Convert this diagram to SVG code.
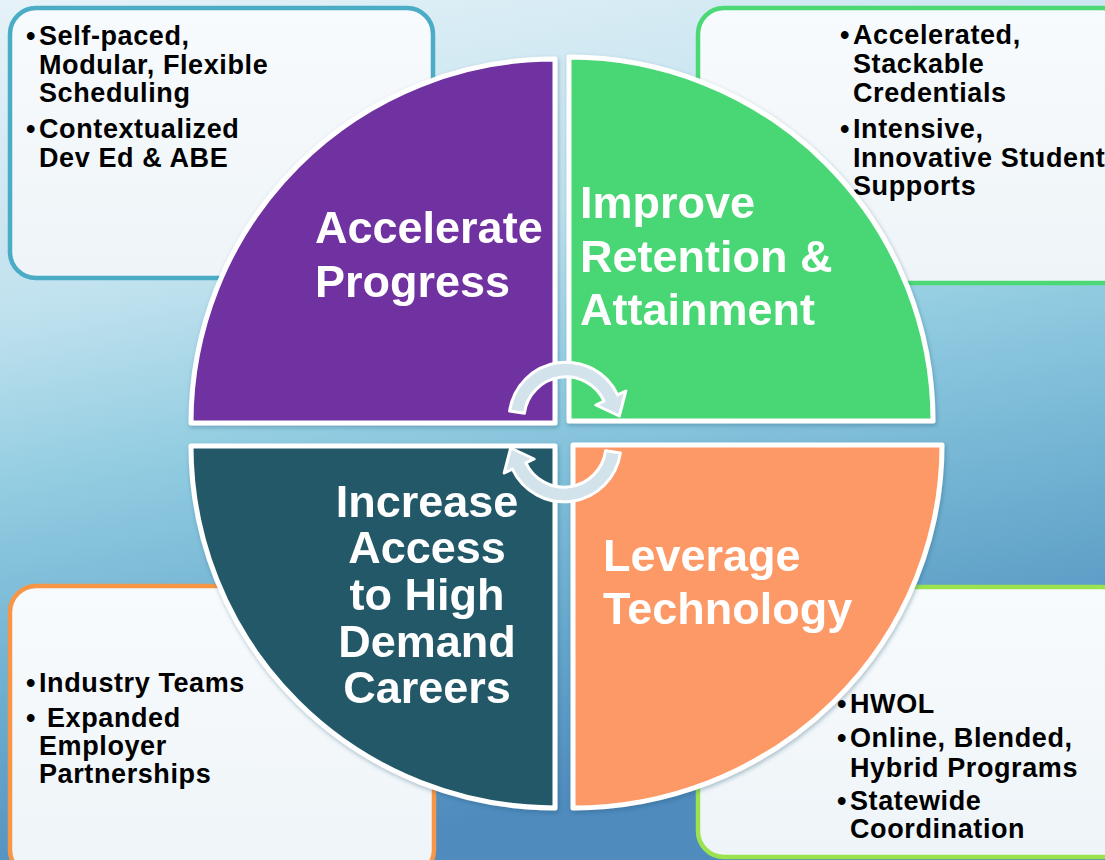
<svg xmlns="http://www.w3.org/2000/svg" width="1105" height="860" viewBox="0 0 1105 860">
  <defs>
    <linearGradient id="bg" x1="0" y1="0" x2="0.25" y2="1">
      <stop offset="0" stop-color="#e6f2f8"/>
      <stop offset="0.35" stop-color="#bfe1ee"/>
      <stop offset="0.55" stop-color="#8fcbe0"/>
      <stop offset="0.8" stop-color="#68a9cd"/>
      <stop offset="1" stop-color="#4f8bbd"/>
    </linearGradient>
    <linearGradient id="boxfill" x1="0" y1="0" x2="0" y2="1">
      <stop offset="0" stop-color="#f8fbfd"/>
      <stop offset="1" stop-color="#eef4f8"/>
    </linearGradient>
    <filter id="sh" x="-10%" y="-10%" width="120%" height="120%">
      <feDropShadow dx="1" dy="2" stdDeviation="2" flood-color="#1d4e6e" flood-opacity="0.35"/>
    </filter>
  </defs>
  <style>
    .box { fill: url(#boxfill); stroke-width: 4.5; }
    .quad { stroke: #ffffff; stroke-width: 5; stroke-linejoin: round; }
    .qt { font-family: "Liberation Sans", Arial, sans-serif; font-weight: bold; font-size: 45px; fill: #ffffff; }
    .bt { font-family: "Liberation Sans", Arial, sans-serif; font-weight: bold; font-size: 27px; letter-spacing: 0.6px; fill: #000000; }
    .arrow { fill: #d3e3ec; stroke: #ffffff; stroke-width: 3; stroke-linejoin: round; }
  </style>

  <rect x="0" y="0" width="1105" height="860" fill="url(#bg)"/>

  <!-- Corner boxes -->
  <g id="box-top-left">
    <rect class="box" x="10" y="8" width="423" height="270" rx="26" stroke="#4bacc6"/>
    <text class="bt"><tspan x="26" y="45">•</tspan><tspan x="39" y="45">Self-paced,</tspan><tspan x="39" y="74">Modular, Flexible</tspan><tspan x="39" y="102">Scheduling</tspan><tspan x="26" y="138">•</tspan><tspan x="39" y="138">Contextualized</tspan><tspan x="39" y="167">Dev Ed &amp; ABE</tspan></text>
  </g>
  <g id="box-top-right">
    <rect class="box" x="698" y="8" width="430" height="275" rx="26" stroke="#4cd874"/>
    <text class="bt"><tspan x="840" y="44">•</tspan><tspan x="853" y="44">Accelerated,</tspan><tspan x="853" y="73">Stackable</tspan><tspan x="853" y="102">Credentials</tspan><tspan x="840" y="138">•</tspan><tspan x="853" y="138">Intensive,</tspan><tspan x="853" y="167">Innovative Student</tspan><tspan x="853" y="195">Supports</tspan></text>
  </g>
  <g id="box-bottom-left">
    <rect class="box" x="10" y="586" width="424" height="290" rx="26" stroke="#f79646"/>
    <text class="bt"><tspan x="26" y="692">•</tspan><tspan x="39" y="692">Industry Teams</tspan><tspan x="26" y="727">•</tspan><tspan x="47" y="727">Expanded</tspan><tspan x="39" y="755">Employer</tspan><tspan x="39" y="783">Partnerships</tspan></text>
  </g>
  <g id="box-bottom-right">
    <rect class="box" x="698" y="587" width="430" height="270" rx="26" stroke="#9be24f"/>
    <text class="bt"><tspan x="837" y="713">•</tspan><tspan x="850" y="713">HWOL</tspan><tspan x="837" y="747">•</tspan><tspan x="850" y="747">Online, Blended,</tspan><tspan x="850" y="777">Hybrid Programs</tspan><tspan x="837" y="810">•</tspan><tspan x="850" y="810">Statewide</tspan><tspan x="850" y="838">Coordination</tspan></text>
  </g>

  <!-- Quadrants -->
  <g id="q-accelerate" filter="url(#sh)">
    <path class="quad" fill="#7030a0" d="M555 423 L191 423 A364 364 0 0 1 555 59 Z"/>
    <text class="qt"><tspan x="315" y="243">Accelerate</tspan><tspan x="315" y="297">Progress</tspan></text>
  </g>
  <g id="q-retention" filter="url(#sh)">
    <path class="quad" fill="#4ad775" d="M569 421 L569 57 A364 364 0 0 1 933 421 Z"/>
    <text class="qt"><tspan x="580" y="218">Improve</tspan><tspan x="580" y="272">Retention &amp;</tspan><tspan x="580" y="325">Attainment</tspan></text>
  </g>
  <g id="q-access" filter="url(#sh)">
    <path class="quad" fill="#215968" d="M555 446 L555 808 A364 362 0 0 1 191 446 Z"/>
    <text class="qt" text-anchor="middle"><tspan x="427" y="517">Increase</tspan><tspan x="427" y="563">Access</tspan><tspan x="427" y="610">to High</tspan><tspan x="427" y="657">Demand</tspan><tspan x="427" y="703">Careers</tspan></text>
  </g>
  <g id="q-technology" filter="url(#sh)">
    <path class="quad" fill="#fd9966" d="M573 445 L942 445 A369 363 0 0 1 573 808 Z"/>
    <text class="qt"><tspan x="603" y="571">Leverage</tspan><tspan x="603" y="624">Technology</tspan></text>
  </g>

  <!-- Connectors: cycle arrows -->
  <g id="connectors">
    <path id="arrow-top" class="arrow" d="M509.6 411.1 A57 57 0 0 1 617.6 394.9 L625.8 391 L619.3 416 L595.9 405 L604.1 401.2 A42 42 0 0 0 524.4 413.2 Z"/>
    <path id="arrow-bottom" class="arrow" transform="rotate(180 565 432)" d="M509.6 411.1 A57 57 0 0 1 617.6 394.9 L625.8 391 L619.3 416 L595.9 405 L604.1 401.2 A42 42 0 0 0 524.4 413.2 Z"/>
  </g>
</svg>
